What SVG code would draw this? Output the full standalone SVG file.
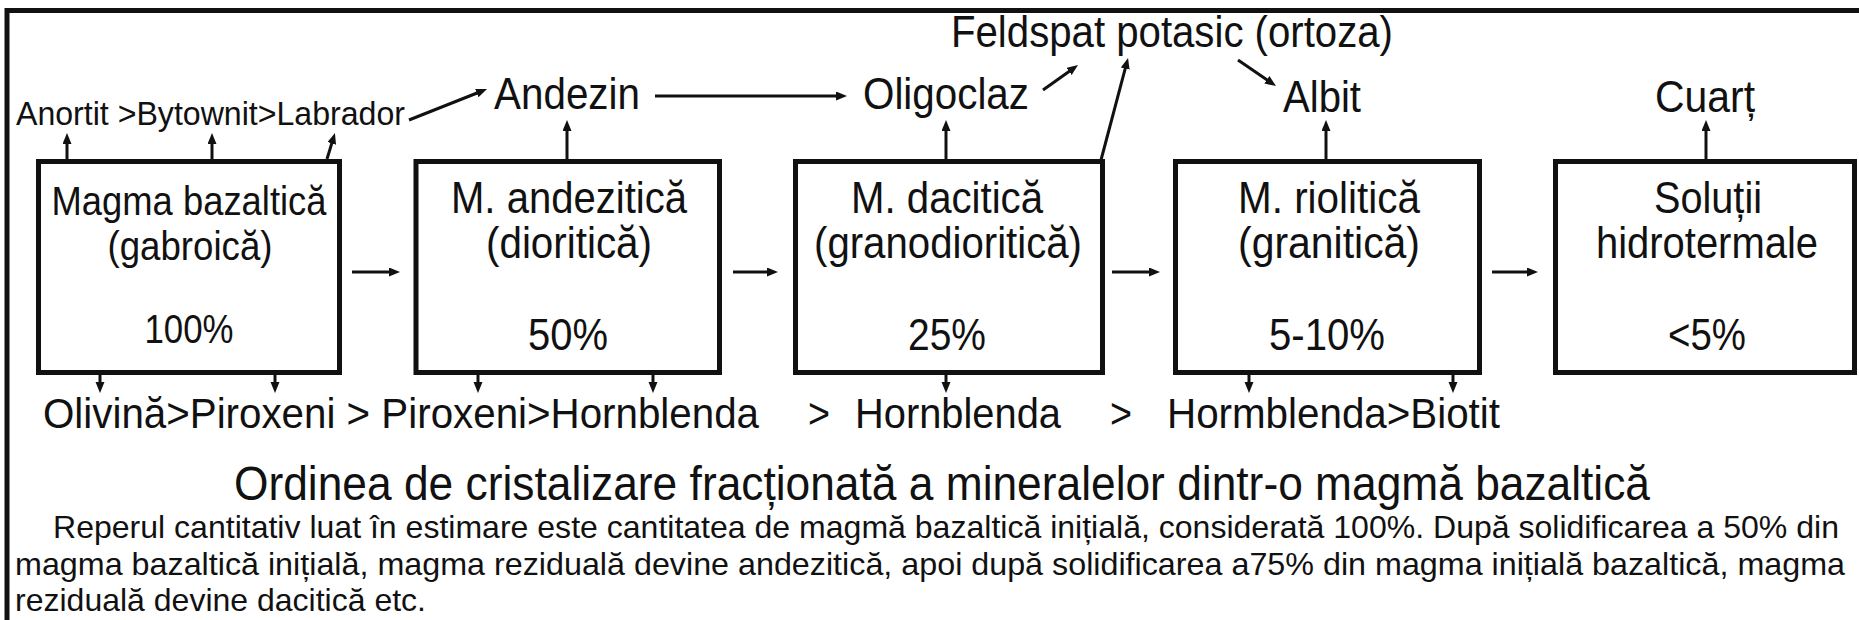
<svg xmlns="http://www.w3.org/2000/svg" width="1859" height="620" viewBox="0 0 1859 620">
<style>
text{font-family:"Liberation Sans",Arial,sans-serif;fill:#111;}
.t40{font-size:44px;}
.t42{font-size:42px;}
.t36{font-size:40px;}
.t32{font-size:34px;}
.para{font-size:32px;}
.title{font-size:48px;}
.box{fill:#fff;stroke:#111;stroke-width:5;}
.frame{fill:none;stroke:#111;stroke-width:5;}
.ar{stroke:#111;stroke-width:3;fill:none;marker-end:url(#ah);}
</style>
<defs>
<marker id="ah" markerUnits="userSpaceOnUse" markerWidth="12" markerHeight="10" refX="3" refY="4.5" orient="auto">
<path d="M0,0 L11,4.5 L0,9 z" fill="#111"/>
</marker>
</defs>
<rect width="1859" height="620" fill="#fff"/>
<rect class="frame" x="7" y="10.5" width="1900" height="700"/>

<g id="connectors">
<line class="ar" x1="67" y1="159" x2="67" y2="141"/>
<line class="ar" x1="212" y1="159" x2="212" y2="141"/>
<line class="ar" x1="327" y1="159" x2="332.6" y2="140.6"/>
<line class="ar" x1="567" y1="159" x2="567" y2="128"/>
<line class="ar" x1="946" y1="159" x2="946" y2="128"/>
<line class="ar" x1="1326" y1="159" x2="1326" y2="128"/>
<line class="ar" x1="1706" y1="159" x2="1706" y2="128"/>
<line class="ar" x1="409" y1="120" x2="479.6" y2="92"/>
<line class="ar" x1="655" y1="96" x2="839" y2="96"/>
<line class="ar" x1="1043" y1="90" x2="1071.5" y2="69.7"/>
<line class="ar" x1="1101" y1="160" x2="1126" y2="65.7"/>
<line class="ar" x1="1238" y1="60" x2="1269.4" y2="81.5"/>
<line class="ar" x1="352" y1="272" x2="392" y2="272"/>
<line class="ar" x1="733" y1="272" x2="770" y2="272"/>
<line class="ar" x1="1112" y1="272" x2="1152" y2="272"/>
<line class="ar" x1="1492" y1="272" x2="1530" y2="272"/>
<line class="ar" x1="100" y1="373" x2="100" y2="385"/>
<line class="ar" x1="275" y1="373" x2="275" y2="385"/>
<line class="ar" x1="478" y1="373" x2="478" y2="385"/>
<line class="ar" x1="653" y1="373" x2="653" y2="385"/>
<line class="ar" x1="946" y1="373" x2="946" y2="385"/>
<line class="ar" x1="1249" y1="373" x2="1249" y2="385"/>
<line class="ar" x1="1453" y1="373" x2="1453" y2="385"/>
</g>

<g id="box1">
<rect class="box" x="38.5" y="161.5" width="301" height="211"/>
<text class="t36" x="189" y="215" text-anchor="middle" textLength="275" lengthAdjust="spacingAndGlyphs">Magma bazaltică</text>
<text class="t36" x="190" y="260" text-anchor="middle" textLength="165" lengthAdjust="spacingAndGlyphs">(gabroică)</text>
<text class="t36" x="189" y="343" text-anchor="middle" textLength="89" lengthAdjust="spacingAndGlyphs">100%</text>
</g>
<g id="box2">
<rect class="box" x="416" y="161.5" width="303.5" height="211"/>
<text class="t40" x="569" y="213" text-anchor="middle" textLength="236" lengthAdjust="spacingAndGlyphs">M. andezitică</text>
<text class="t40" x="569" y="258" text-anchor="middle" textLength="166" lengthAdjust="spacingAndGlyphs">(dioritică)</text>
<text class="t40" x="568" y="350" text-anchor="middle" textLength="80" lengthAdjust="spacingAndGlyphs">50%</text>
</g>
<g id="box3">
<rect class="box" x="795.5" y="161.5" width="307" height="211"/>
<text class="t40" x="947" y="213" text-anchor="middle" textLength="192" lengthAdjust="spacingAndGlyphs">M. dacitică</text>
<text class="t40" x="948" y="258" text-anchor="middle" textLength="268" lengthAdjust="spacingAndGlyphs">(granodioritică)</text>
<text class="t40" x="947" y="350" text-anchor="middle" textLength="78" lengthAdjust="spacingAndGlyphs">25%</text>
</g>
<g id="box4">
<rect class="box" x="1175.5" y="161.5" width="304" height="211"/>
<text class="t40" x="1329" y="213" text-anchor="middle" textLength="182" lengthAdjust="spacingAndGlyphs">M. riolitică</text>
<text class="t40" x="1329" y="258" text-anchor="middle" textLength="182" lengthAdjust="spacingAndGlyphs">(granitică)</text>
<text class="t40" x="1327" y="350" text-anchor="middle" textLength="116" lengthAdjust="spacingAndGlyphs">5-10%</text>
</g>
<g id="box5">
<rect class="box" x="1555.5" y="161.5" width="299" height="211"/>
<text class="t40" x="1708" y="213" text-anchor="middle" textLength="108" lengthAdjust="spacingAndGlyphs">Soluții</text>
<text class="t40" x="1707" y="258" text-anchor="middle" textLength="222" lengthAdjust="spacingAndGlyphs">hidrotermale</text>
<text class="t40" x="1707" y="350" text-anchor="middle" textLength="78" lengthAdjust="spacingAndGlyphs">&lt;5%</text>
</g>

<g id="labels-top">
<text class="t32" x="16" y="125" textLength="389" lengthAdjust="spacingAndGlyphs">Anortit &gt;Bytownit&gt;Labrador</text>
<text class="t40" x="567" y="109" text-anchor="middle" textLength="146" lengthAdjust="spacingAndGlyphs">Andezin</text>
<text class="t40" x="946" y="109" text-anchor="middle" textLength="166" lengthAdjust="spacingAndGlyphs">Oligoclaz</text>
<text class="t40" x="951" y="47" textLength="442" lengthAdjust="spacingAndGlyphs">Feldspat potasic (ortoza)</text>
<text class="t40" x="1322" y="112" text-anchor="middle" textLength="78" lengthAdjust="spacingAndGlyphs">Albit</text>
<text class="t40" x="1705" y="112" text-anchor="middle" textLength="100" lengthAdjust="spacingAndGlyphs">Cuarț</text>
</g>

<g id="labels-bottom">
<text class="t42" x="43" y="428" textLength="716" lengthAdjust="spacingAndGlyphs">Olivină&gt;Piroxeni &gt; Piroxeni&gt;Hornblenda</text>
<text class="t42" x="808" y="428" textLength="22" lengthAdjust="spacingAndGlyphs">&gt;</text>
<text class="t42" x="855" y="428" textLength="206" lengthAdjust="spacingAndGlyphs">Hornblenda</text>
<text class="t42" x="1110" y="428" textLength="22" lengthAdjust="spacingAndGlyphs">&gt;</text>
<text class="t42" x="1167" y="428" textLength="333" lengthAdjust="spacingAndGlyphs">Hormblenda&gt;Biotit</text>
</g>

<g id="caption">
<text class="title" x="234" y="500" textLength="1416" lengthAdjust="spacingAndGlyphs">Ordinea de cristalizare fracționată a mineralelor dintr-o magmă bazaltică</text>
<text class="para" x="53" y="538" textLength="1786" lengthAdjust="spacingAndGlyphs">Reperul cantitativ luat în estimare este cantitatea de magmă bazaltică inițială, considerată 100%. După solidificarea a 50% din</text>
<text class="para" x="15" y="575" textLength="1830" lengthAdjust="spacingAndGlyphs">magma bazaltică inițială, magma reziduală devine andezitică, apoi după solidificarea a75% din magma inițială bazaltică, magma</text>
<text class="para" x="15" y="611" textLength="411" lengthAdjust="spacingAndGlyphs">reziduală devine dacitică etc.</text>
</g>
</svg>
